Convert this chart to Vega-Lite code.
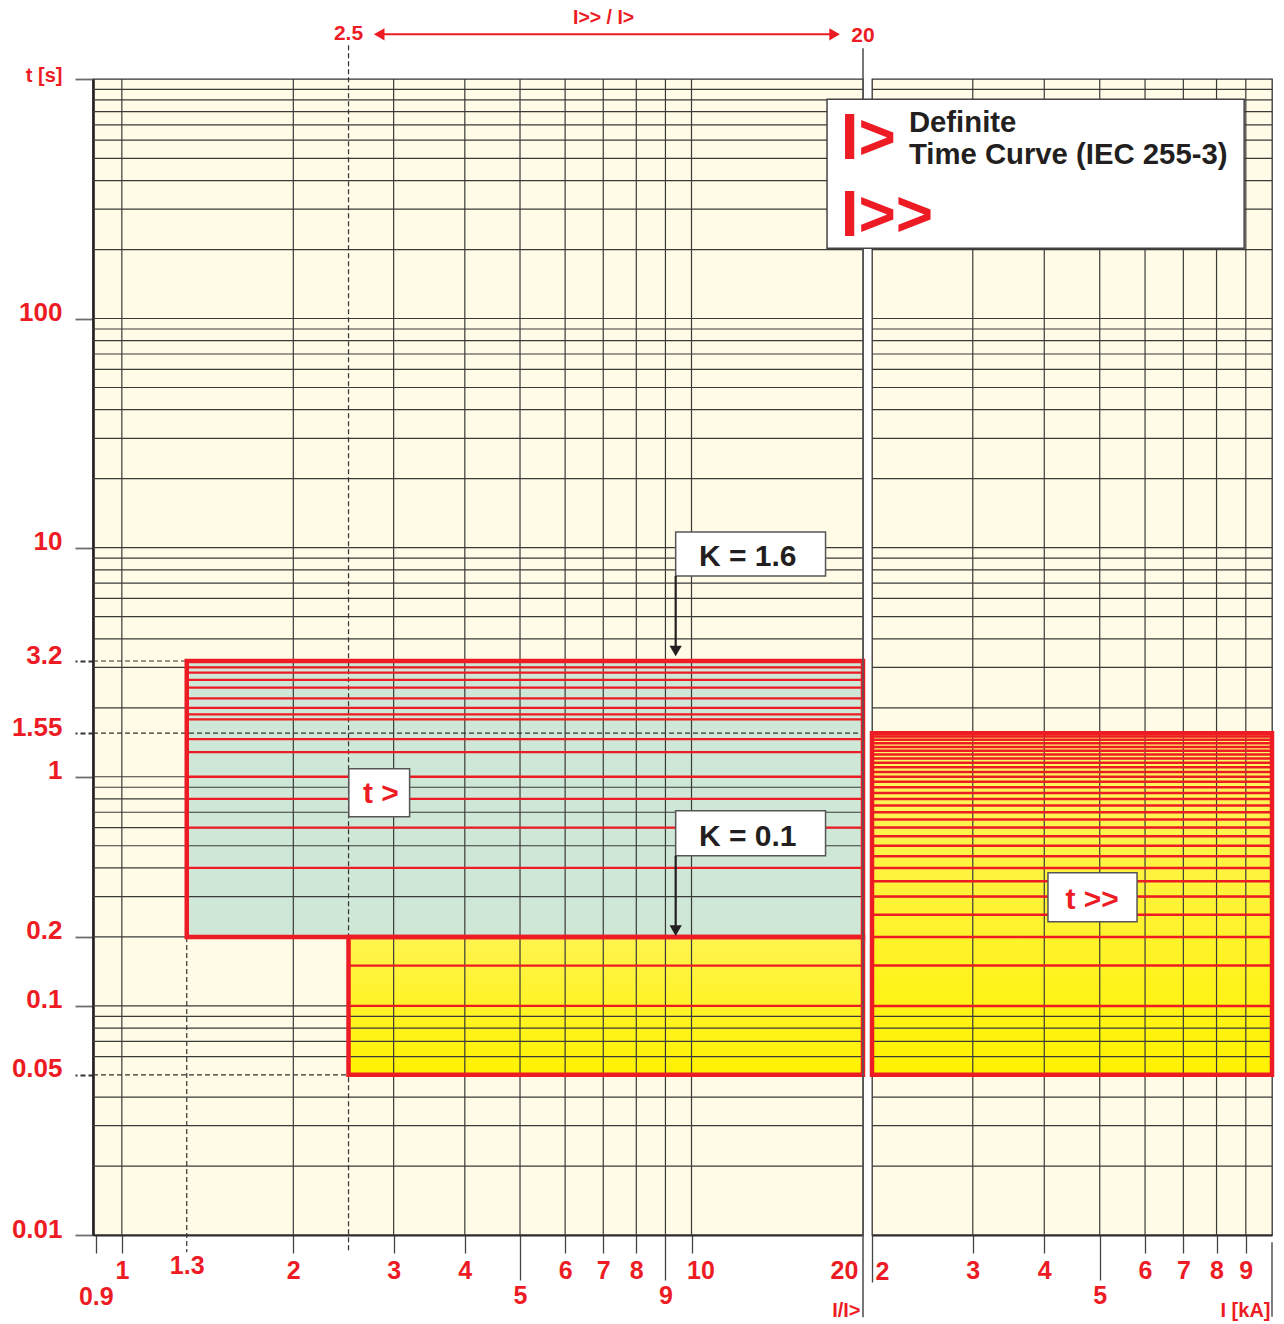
{
 "$schema": "https://vega.github.io/schema/vega-lite/v6.json",
 "background": "white",
 "padding": {"left": 10, "top": 7, "right": 4, "bottom": 4},
 "bounds": "flush",
 "spacing": 9,
 "config": {
  "font": "Liberation Sans",
  "view": {"fill": "#fffbe6", "stroke": "#333333", "strokeWidth": 1.3},
  "axis": {"labelFont": "Liberation Sans", "labelFontWeight": "bold", "labelColor": "#ed1c24", "labelOverlap": false, "labelFlush": false, "labelBound": false, "grid": false, "titleFont": "Liberation Sans", "titleFontWeight": "bold", "titleColor": "#ed1c24"}
 },
 "hconcat": [
  {
   "width": 770, "height": 1156,
   "layer": [
    {"data": {"values": [{"x": 1.3, "x2": 20, "y": 0.2, "y2": 3.2}]},
     "mark": {"type": "rect", "fill": "#cfe7d6"},
     "encoding": {
      "x": {"field": "x", "type": "quantitative", "scale": {"type": "log", "domain": [0.89, 20], "nice": false},
       "axis": {"values": [0.9, 1, 1.3, 2, 3, 4, 5, 6, 7, 8, 9, 10, 20], "format": "~g", "title": "I/I>", "titleFontSize": 20, "titleAnchor": "end", "titleAlign": "right", "titleBaseline": "alphabetic", "titleX": 767, "titleY": 81,
        "domainColor": "#2b2b2b", "domainWidth": 2.2, "tickColor": "#444444", "tickWidth": 1.3,
        "tickSize": {"condition": {"test": "datum.value == 5 || datum.value == 9", "value": 45}, "value": 18},
        "tickOpacity": {"condition": {"test": "datum.value == 1.3 || datum.value == 20", "value": 0}, "value": 1},
        "labelFontSize": 25,
        "labelPadding": {"condition": [{"test": "datum.value == 0.9", "value": 31}, {"test": "datum.value == 1.3", "value": 0}, {"test": "datum.value == 5 || datum.value == 9", "value": 3}], "value": 5},
        "labelOffset": {"condition": [{"test": "datum.value == 10", "value": 9}, {"test": "datum.value == 20", "value": -19}], "value": 0}}},
      "x2": {"field": "x2"},
      "y": {"field": "y", "type": "quantitative", "scale": {"type": "log", "domain": [0.01, 1110], "nice": false},
       "axis": {"values": [0.01, 0.05, 0.1, 0.2, 1, 1.55, 3.2, 10, 100, 1110], "format": "~g", "labelExpr": "datum.value > 1000 ? 't [s]' : datum.label", "title": null,
        "domainColor": "#231f20", "domainWidth": 2.6, "tickSize": 18, "tickWidth": 1.8,
        "tickColor": {"condition": {"test": "datum.value == 3.2 || datum.value == 1.55 || datum.value == 0.05", "value": "#333333"}, "value": "#6d6e71"},
        "tickDash": {"condition": {"test": "datum.value == 3.2 || datum.value == 1.55 || datum.value == 0.05", "value": [5, 3]}, "value": []},
        "labelFontSize": {"condition": {"test": "datum.value > 1000", "value": 20}, "value": 26},
        "labelPadding": 13, "labelBaseline": "alphabetic", "labelOffset": 2}},
      "y2": {"field": "y2"}}},
    {"data": {"values": [{"x": 2.5, "x2": 20, "y": 0.05, "y2": 0.2}]},
     "mark": {"type": "rect", "fill": {"gradient": "linear", "x1": 0, "y1": 0, "x2": 0, "y2": 1, "stops": [{"offset": 0, "color": "#fff44f"}, {"offset": 1, "color": "#fff200"}]}},
     "encoding": {"x": {"field": "x", "type": "quantitative", "scale": {"type": "log", "domain": [0.89, 20], "nice": false}}, "x2": {"field": "x2"},
      "y": {"field": "y", "type": "quantitative", "scale": {"type": "log", "domain": [0.01, 1110], "nice": false}}, "y2": {"field": "y2"}}},
    {"data": {"values": [{"t": 0.02}, {"t": 0.03}, {"t": 0.04}, {"t": 0.06}, {"t": 0.07}, {"t": 0.08}, {"t": 0.09}, {"t": 0.1}, {"t": 0.2}, {"t": 0.3}, {"t": 0.4}, {"t": 0.5}, {"t": 0.6}, {"t": 0.7}, {"t": 0.8}, {"t": 0.9}, {"t": 1}, {"t": 2}, {"t": 3}, {"t": 4}, {"t": 5}, {"t": 6}, {"t": 7}, {"t": 8}, {"t": 9}, {"t": 10}, {"t": 20}, {"t": 30}, {"t": 40}, {"t": 50}, {"t": 60}, {"t": 70}, {"t": 80}, {"t": 90}, {"t": 100}, {"t": 200}, {"t": 300}, {"t": 400}, {"t": 500}, {"t": 600}, {"t": 700}, {"t": 800}, {"t": 900}, {"t": 1000}]},
     "mark": {"type": "rule", "color": "#3a3a3a", "strokeWidth": 1.2},
     "encoding": {"y": {"field": "t", "type": "quantitative", "scale": {"type": "log", "domain": [0.01, 1110], "nice": false}}}},
    {"data": {"values": [{"i": 1}, {"i": 2}, {"i": 3}, {"i": 4}, {"i": 5}, {"i": 6}, {"i": 7}, {"i": 8}, {"i": 9}, {"i": 10}]},
     "mark": {"type": "rule", "color": "#3a3a3a", "strokeWidth": 1.2},
     "encoding": {"x": {"field": "i", "type": "quantitative", "scale": {"type": "log", "domain": [0.89, 20], "nice": false}}}},
    {"data": {"values": [{"x": 0.89, "x2": 1.3, "t": 3.2}, {"x": 0.89, "x2": 20, "t": 1.55}, {"x": 0.89, "x2": 2.5, "t": 0.05}]},
     "mark": {"type": "rule", "color": "#333333", "strokeWidth": 1.2, "strokeDash": [5, 3]},
     "encoding": {"x": {"field": "x", "type": "quantitative", "scale": {"type": "log", "domain": [0.89, 20], "nice": false}}, "x2": {"field": "x2"},
      "y": {"field": "t", "type": "quantitative", "scale": {"type": "log", "domain": [0.01, 1110], "nice": false}}}},
    {"data": {"values": [{"i": 1.3, "y": 0.2, "y2": 0.0084}, {"i": 2.5, "y": 1557, "y2": 0.0084}]},
     "mark": {"type": "rule", "color": "#333333", "strokeWidth": 1.2, "strokeDash": [5, 3]},
     "encoding": {"x": {"field": "i", "type": "quantitative", "scale": {"type": "log", "domain": [0.89, 20], "nice": false}},
      "y": {"field": "y", "type": "quantitative", "scale": {"type": "log", "domain": [0.01, 1110], "nice": false}}, "y2": {"field": "y2"}}},
    {"data": {"values": [{"x": 1.3, "x2": 20, "t": 3.0}, {"x": 1.3, "x2": 20, "t": 2.85}, {"x": 1.3, "x2": 20, "t": 2.65}, {"x": 1.3, "x2": 20, "t": 2.45}, {"x": 1.3, "x2": 20, "t": 2.2}, {"x": 1.3, "x2": 20, "t": 2.0}, {"x": 1.3, "x2": 20, "t": 1.87}, {"x": 1.3, "x2": 20, "t": 1.78}, {"x": 1.3, "x2": 20, "t": 1.46}, {"x": 1.3, "x2": 20, "t": 1.28}, {"x": 1.3, "x2": 20, "t": 1.0}, {"x": 1.3, "x2": 20, "t": 0.8}, {"x": 1.3, "x2": 20, "t": 0.6}, {"x": 1.3, "x2": 20, "t": 0.4}, {"x": 2.5, "x2": 20, "t": 0.15}, {"x": 2.5, "x2": 20, "t": 0.1}]},
     "mark": {"type": "rule", "color": "#ed1c24", "strokeWidth": 2.3},
     "encoding": {"x": {"field": "x", "type": "quantitative", "scale": {"type": "log", "domain": [0.89, 20], "nice": false}}, "x2": {"field": "x2"},
      "y": {"field": "t", "type": "quantitative", "scale": {"type": "log", "domain": [0.01, 1110], "nice": false}}}},
    {"data": {"values": [{"x": 1.3, "x2": 20, "y": 0.2, "y2": 3.2}, {"x": 2.5, "x2": 20, "y": 0.05, "y2": 0.2}]},
     "mark": {"type": "rect", "filled": false, "color": "#ed1c24", "strokeWidth": 4.5},
     "encoding": {"x": {"field": "x", "type": "quantitative", "scale": {"type": "log", "domain": [0.89, 20], "nice": false}}, "x2": {"field": "x2"},
      "y": {"field": "y", "type": "quantitative", "scale": {"type": "log", "domain": [0.01, 1110], "nice": false}}, "y2": {"field": "y2"}}},
    {"data": {"values": [{"i": 20, "y": 1511, "y2": 0.00438}]},
     "mark": {"type": "rule", "color": "#555555", "strokeWidth": 1.6},
     "encoding": {"x": {"field": "i", "type": "quantitative", "scale": {"type": "log", "domain": [0.89, 20], "nice": false}},
      "y": {"field": "y", "type": "quantitative", "scale": {"type": "log", "domain": [0.01, 1110], "nice": false}}, "y2": {"field": "y2"}}},
    {"data": {"values": [{"x": 9.38, "x2": 17.19, "y": 7.52, "y2": 11.7}, {"x": 9.38, "x2": 17.19, "y": 0.452, "y2": 0.711}, {"x": 2.503, "x2": 3.2, "y": 0.669, "y2": 1.083}]},
     "mark": {"type": "rect", "fill": "white", "stroke": "#555555", "strokeWidth": 1.5},
     "encoding": {"x": {"field": "x", "type": "quantitative", "scale": {"type": "log", "domain": [0.89, 20], "nice": false}}, "x2": {"field": "x2"},
      "y": {"field": "y", "type": "quantitative", "scale": {"type": "log", "domain": [0.01, 1110], "nice": false}}, "y2": {"field": "y2"}}},
    {"data": {"values": [{"i": 9.38, "y": 7.52, "y2": 3.54}, {"i": 9.38, "y": 0.452, "y2": 0.213}]},
     "mark": {"type": "rule", "color": "#231f20", "strokeWidth": 2.2},
     "encoding": {"x": {"field": "i", "type": "quantitative", "scale": {"type": "log", "domain": [0.89, 20], "nice": false}},
      "y": {"field": "y", "type": "quantitative", "scale": {"type": "log", "domain": [0.01, 1110], "nice": false}}, "y2": {"field": "y2"}}},
    {"data": {"values": [{"i": 9.38, "t": 3.54}, {"i": 9.38, "t": 0.213}]},
     "mark": {"type": "point", "shape": "triangle-down", "filled": true, "color": "#231f20", "size": 150, "opacity": 1},
     "encoding": {"x": {"field": "i", "type": "quantitative", "scale": {"type": "log", "domain": [0.89, 20], "nice": false}},
      "y": {"field": "t", "type": "quantitative", "scale": {"type": "log", "domain": [0.01, 1110], "nice": false}}}},
    {"data": {"values": [{"i": 12.55, "t": 8.32, "label": "K = 1.6"}, {"i": 12.55, "t": 0.5, "label": "K = 0.1"}]},
     "mark": {"type": "text", "fontSize": 30, "fontWeight": "bold", "color": "#231f20", "align": "center", "baseline": "alphabetic"},
     "encoding": {"x": {"field": "i", "type": "quantitative", "scale": {"type": "log", "domain": [0.89, 20], "nice": false}},
      "y": {"field": "t", "type": "quantitative", "scale": {"type": "log", "domain": [0.01, 1110], "nice": false}}, "text": {"field": "label"}}},
    {"data": {"values": [{"i": 2.85, "t": 0.768, "label": "t >"}]},
     "mark": {"type": "text", "fontSize": 30, "fontWeight": "bold", "color": "#ed1c24", "align": "center", "baseline": "alphabetic"},
     "encoding": {"x": {"field": "i", "type": "quantitative", "scale": {"type": "log", "domain": [0.89, 20], "nice": false}},
      "y": {"field": "t", "type": "quantitative", "scale": {"type": "log", "domain": [0.01, 1110], "nice": false}}, "text": {"field": "label"}}},
    {"data": {"values": [{"x": 2.83, "x2": 17.83, "t": 1739}]},
     "mark": {"type": "rule", "color": "#ed1c24", "strokeWidth": 2},
     "encoding": {"x": {"field": "x", "type": "quantitative", "scale": {"type": "log", "domain": [0.89, 20], "nice": false}}, "x2": {"field": "x2"},
      "y": {"field": "t", "type": "quantitative", "scale": {"type": "log", "domain": [0.01, 1110], "nice": false}}}},
    {"data": {"values": [{"i": 2.83, "t": 1739}]},
     "mark": {"type": "point", "shape": "triangle-left", "filled": true, "color": "#ed1c24", "size": 150, "opacity": 1},
     "encoding": {"x": {"field": "i", "type": "quantitative", "scale": {"type": "log", "domain": [0.89, 20], "nice": false}},
      "y": {"field": "t", "type": "quantitative", "scale": {"type": "log", "domain": [0.01, 1110], "nice": false}}}},
    {"data": {"values": [{"i": 17.83, "t": 1739}]},
     "mark": {"type": "point", "shape": "triangle-right", "filled": true, "color": "#ed1c24", "size": 150, "opacity": 1},
     "encoding": {"x": {"field": "i", "type": "quantitative", "scale": {"type": "log", "domain": [0.89, 20], "nice": false}},
      "y": {"field": "t", "type": "quantitative", "scale": {"type": "log", "domain": [0.01, 1110], "nice": false}}}},
    {"data": {"values": [{"i": 2.5, "t": 1637, "label": "2.5"}, {"i": 20, "t": 1609, "label": "20"}]},
     "mark": {"type": "text", "fontSize": 21, "fontWeight": "bold", "color": "#ed1c24", "align": "center", "baseline": "alphabetic"},
     "encoding": {"x": {"field": "i", "type": "quantitative", "scale": {"type": "log", "domain": [0.89, 20], "nice": false}},
      "y": {"field": "t", "type": "quantitative", "scale": {"type": "log", "domain": [0.01, 1110], "nice": false}}, "text": {"field": "label"}}},
    {"data": {"values": [{"i": 7.01, "t": 1922, "label": "I>> / I>"}]},
     "mark": {"type": "text", "fontSize": 19.5, "fontWeight": "bold", "color": "#ed1c24", "align": "center", "baseline": "alphabetic"},
     "encoding": {"x": {"field": "i", "type": "quantitative", "scale": {"type": "log", "domain": [0.89, 20], "nice": false}},
      "y": {"field": "t", "type": "quantitative", "scale": {"type": "log", "domain": [0.01, 1110], "nice": false}}, "text": {"field": "label"}}}
   ]
  },
  {
   "width": 400, "height": 1156,
   "layer": [
    {"data": {"values": [{"x": 2, "x2": 10, "y": 0.05, "y2": 1.55}]},
     "mark": {"type": "rect", "fill": {"gradient": "linear", "x1": 0, "y1": 0, "x2": 0, "y2": 1, "stops": [{"offset": 0, "color": "#fff46a"}, {"offset": 1, "color": "#fff200"}]}},
     "encoding": {
      "x": {"field": "x", "type": "quantitative", "scale": {"type": "log", "domain": [2, 10], "nice": false},
       "axis": {"values": [2, 3, 4, 5, 6, 7, 8, 9, 10], "format": "~g", "labelExpr": "datum.value == 10 ? '' : datum.label", "title": "I [kA]", "titleFontSize": 20, "titleAnchor": "end", "titleAlign": "right", "titleBaseline": "alphabetic", "titleX": 398, "titleY": 81,
        "domainColor": "#2b2b2b", "domainWidth": 2.2, "tickColor": "#444444", "tickWidth": 1.3,
        "tickSize": {"condition": [{"test": "datum.value == 2", "value": 47}, {"test": "datum.value == 5", "value": 45}], "value": 18},
        "tickOpacity": {"condition": {"test": "datum.value == 10", "value": 0}, "value": 1},
        "labelFontSize": 25,
        "labelPadding": {"condition": [{"test": "datum.value == 2", "value": -23}, {"test": "datum.value == 5", "value": 3}], "value": 5},
        "labelOffset": {"condition": {"test": "datum.value == 2", "value": 10}, "value": 0}}},
      "x2": {"field": "x2"},
      "y": {"field": "y", "type": "quantitative", "scale": {"type": "log", "domain": [0.01, 1110], "nice": false}, "axis": null},
      "y2": {"field": "y2"}}},
    {"data": {"values": [{"t": 0.02}, {"t": 0.03}, {"t": 0.04}, {"t": 0.06}, {"t": 0.07}, {"t": 0.08}, {"t": 0.09}, {"t": 0.1}, {"t": 0.2}, {"t": 0.3}, {"t": 0.4}, {"t": 0.5}, {"t": 0.6}, {"t": 0.7}, {"t": 0.8}, {"t": 0.9}, {"t": 1}, {"t": 2}, {"t": 3}, {"t": 4}, {"t": 5}, {"t": 6}, {"t": 7}, {"t": 8}, {"t": 9}, {"t": 10}, {"t": 20}, {"t": 30}, {"t": 40}, {"t": 50}, {"t": 60}, {"t": 70}, {"t": 80}, {"t": 90}, {"t": 100}, {"t": 200}, {"t": 300}, {"t": 400}, {"t": 500}, {"t": 600}, {"t": 700}, {"t": 800}, {"t": 900}, {"t": 1000}]},
     "mark": {"type": "rule", "color": "#3a3a3a", "strokeWidth": 1.2},
     "encoding": {"y": {"field": "t", "type": "quantitative", "scale": {"type": "log", "domain": [0.01, 1110], "nice": false}, "axis": null}}},
    {"data": {"values": [{"i": 3}, {"i": 4}, {"i": 5}, {"i": 6}, {"i": 7}, {"i": 8}, {"i": 9}]},
     "mark": {"type": "rule", "color": "#3a3a3a", "strokeWidth": 1.2},
     "encoding": {"x": {"field": "i", "type": "quantitative", "scale": {"type": "log", "domain": [2, 10], "nice": false}}}},
    {"data": {"values": [{"t": 0.1}, {"t": 0.15}, {"t": 0.2}, {"t": 0.25}, {"t": 0.3}, {"t": 0.35}, {"t": 0.4}, {"t": 0.45}, {"t": 0.5}, {"t": 0.55}, {"t": 0.6}, {"t": 0.65}, {"t": 0.7}, {"t": 0.75}, {"t": 0.8}, {"t": 0.85}, {"t": 0.9}, {"t": 0.95}, {"t": 1.0}, {"t": 1.05}, {"t": 1.1}, {"t": 1.15}, {"t": 1.2}, {"t": 1.25}, {"t": 1.3}, {"t": 1.35}, {"t": 1.4}, {"t": 1.45}, {"t": 1.5}]},
     "mark": {"type": "rule", "color": "#ed1c24", "strokeWidth": 2.5},
     "encoding": {"y": {"field": "t", "type": "quantitative", "scale": {"type": "log", "domain": [0.01, 1110], "nice": false}, "axis": null}}},
    {"data": {"values": [{"x": 2, "x2": 10, "y": 0.05, "y2": 1.55}]},
     "mark": {"type": "rect", "filled": false, "color": "#ed1c24", "strokeWidth": 4.5},
     "encoding": {"x": {"field": "x", "type": "quantitative", "scale": {"type": "log", "domain": [2, 10], "nice": false}}, "x2": {"field": "x2"},
      "y": {"field": "y", "type": "quantitative", "scale": {"type": "log", "domain": [0.01, 1110], "nice": false}, "axis": null}, "y2": {"field": "y2"}}},
    {"data": {"values": [{"i": 10, "y": 0.0093, "y2": 0.0044}]},
     "mark": {"type": "rule", "color": "#555555", "strokeWidth": 1.5},
     "encoding": {"x": {"field": "i", "type": "quantitative", "scale": {"type": "log", "domain": [2, 10], "nice": false}},
      "y": {"field": "y", "type": "quantitative", "scale": {"type": "log", "domain": [0.01, 1110], "nice": false}, "axis": null}, "y2": {"field": "y2"}}},
    {"data": {"values": [{"x": 4.06, "x2": 5.81, "y": 0.233, "y2": 0.381}]},
     "mark": {"type": "rect", "fill": "white", "stroke": "#555555", "strokeWidth": 1.5},
     "encoding": {"x": {"field": "x", "type": "quantitative", "scale": {"type": "log", "domain": [2, 10], "nice": false}}, "x2": {"field": "x2"},
      "y": {"field": "y", "type": "quantitative", "scale": {"type": "log", "domain": [0.01, 1110], "nice": false}, "axis": null}, "y2": {"field": "y2"}}},
    {"data": {"values": [{"i": 4.85, "t": 0.265, "label": "t >>"}]},
     "mark": {"type": "text", "fontSize": 30, "fontWeight": "bold", "color": "#ed1c24", "align": "center", "baseline": "alphabetic"},
     "encoding": {"x": {"field": "i", "type": "quantitative", "scale": {"type": "log", "domain": [2, 10], "nice": false}},
      "y": {"field": "t", "type": "quantitative", "scale": {"type": "log", "domain": [0.01, 1110], "nice": false}, "axis": null}, "text": {"field": "label"}}},
    {"data": {"values": [{"x": 1.669, "x2": 8.94, "y": 202.8, "y2": 905.5}]},
     "mark": {"type": "rect", "fill": "white", "stroke": "#444444", "strokeWidth": 1.5},
     "encoding": {"x": {"field": "x", "type": "quantitative", "scale": {"type": "log", "domain": [2, 10], "nice": false}}, "x2": {"field": "x2"},
      "y": {"field": "y", "type": "quantitative", "scale": {"type": "log", "domain": [0.01, 1110], "nice": false}, "axis": null}, "y2": {"field": "y2"}}},
    {"data": {"values": [{"i": 2.32, "t": 652, "label": "Definite"}, {"i": 2.32, "t": 471.3, "label": "Time Curve (IEC 255-3)"}]},
     "mark": {"type": "text", "fontSize": 29.3, "fontWeight": "bold", "color": "#231f20", "align": "left", "baseline": "alphabetic"},
     "encoding": {"x": {"field": "i", "type": "quantitative", "scale": {"type": "log", "domain": [2, 10], "nice": false}},
      "y": {"field": "t", "type": "quantitative", "scale": {"type": "log", "domain": [0.01, 1110], "nice": false}, "axis": null}, "text": {"field": "label"}}},
    {"data": {"values": [{"i": 1.763, "t": 499, "label": "I>"}, {"i": 1.763, "t": 229.4, "label": "I>>"}]},
     "mark": {"type": "text", "fontSize": 64, "fontWeight": "bold", "color": "#ed1c24", "align": "left", "baseline": "alphabetic"},
     "encoding": {"x": {"field": "i", "type": "quantitative", "scale": {"type": "log", "domain": [2, 10], "nice": false}},
      "y": {"field": "t", "type": "quantitative", "scale": {"type": "log", "domain": [0.01, 1110], "nice": false}, "axis": null}, "text": {"field": "label"}}}
   ]
  }
 ]
}
